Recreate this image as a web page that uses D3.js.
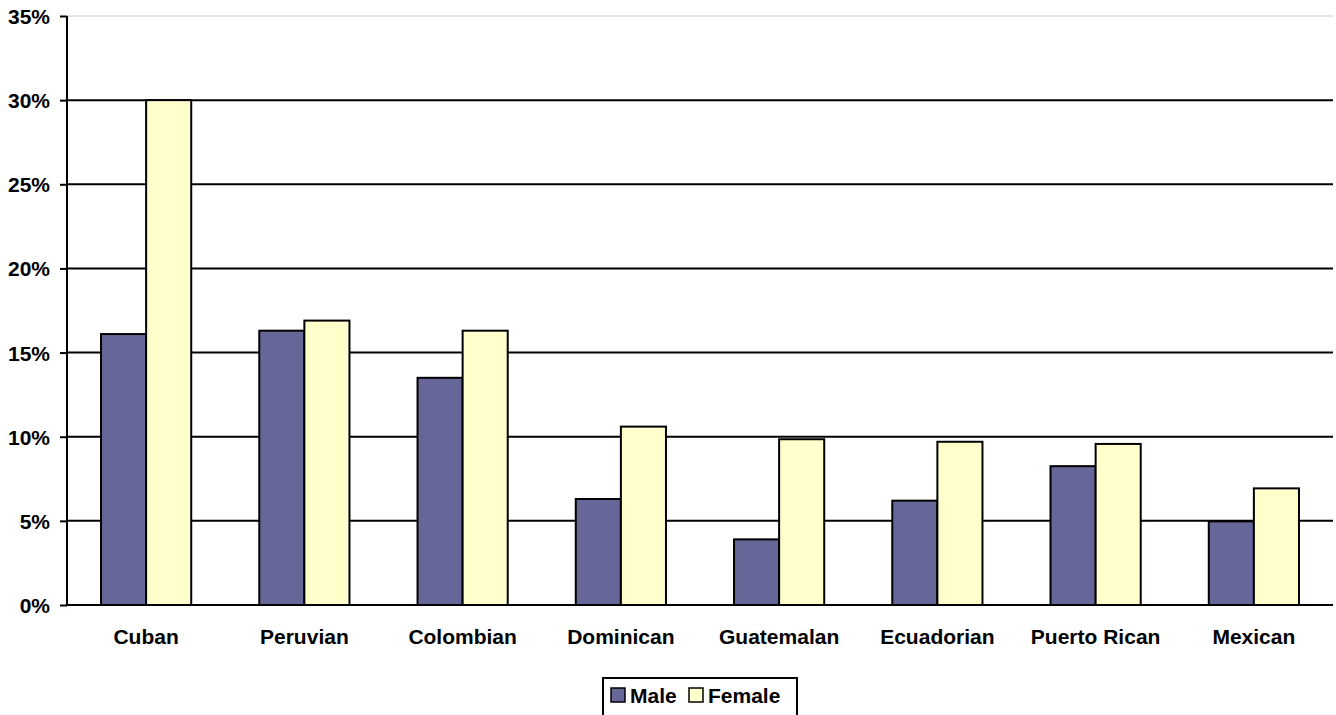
<!DOCTYPE html>
<html><head><meta charset="utf-8">
<script src="https://cdn.jsdelivr.net/npm/d3@7"></script>
<style>body{margin:0;background:#fff}svg{display:block;font-family:Arial,"Liberation Sans",sans-serif;font-weight:bold}</style>
</head><body><svg id="c" width="1336" height="715"></svg>
<script>
const categories = ["Cuban","Peruvian","Colombian","Dominican","Guatemalan","Ecuadorian","Puerto Rican","Mexican"];
const male = [16.1, 16.3, 13.5, 6.3, 3.9, 6.2, 8.25, 4.97];
const female = [30.0, 16.9, 16.3, 10.6, 9.85, 9.7, 9.57, 6.93];
const seriesNames = ["Male","Female"];
const yTicks = [0,5,10,15,20,25,30,35];
const colors = ["#666699","#FFFFCC"];

const FS = 21;
const svg = d3.select("#c");
const L=67, R=1333, T=16, B=605;
const x = d3.scaleBand().domain(categories).range([L,R]).paddingInner(0.43).paddingOuter(0.215);
const xs = d3.scaleBand().domain(seriesNames).range([0,x.bandwidth()]);
const y = d3.scaleLinear().domain([0,35]).range([B,T]);

// gridlines
svg.append("g").selectAll("line").data(yTicks.filter(d=>d>0)).join("line")
  .attr("x1",L).attr("x2",R).attr("y1",d=>y(d)).attr("y2",d=>y(d))
  .attr("stroke",d=>d===35?"#c8c8c8":"#000").attr("stroke-width",d=>d===35?1:2);

// bars
const data = categories.map((c,i)=>({c, vals:[male[i],female[i]]}));
const g = svg.append("g");
data.forEach(d=>{
  d.vals.forEach((v,j)=>{
    g.append("rect").attr("x",x(d.c)+xs(seriesNames[j])).attr("y",y(v))
      .attr("width",xs.bandwidth()).attr("height",B-y(v))
      .attr("fill",colors[j]).attr("stroke","#000").attr("stroke-width",2);
  });
});

// y axis
const ya = d3.axisLeft(y).tickValues(yTicks).tickFormat(d=>d+"%").tickSize(7).tickPadding(10);
const yg = svg.append("g").attr("transform",`translate(${L},0)`).call(ya);
yg.attr("font-size",FS).attr("font-family","Arial, 'Liberation Sans', sans-serif").attr("font-weight","bold");
yg.select(".domain").attr("stroke","#000").attr("stroke-width",2).attr("d",`M0,${T}V${B}`);
yg.selectAll(".tick line").attr("stroke","#000").attr("stroke-width",2);
yg.selectAll("text").attr("fill","#000").attr("dy","0.36em");

// x axis baseline + labels
svg.append("line").attr("x1",L).attr("x2",R).attr("y1",B).attr("y2",B).attr("stroke","#000").attr("stroke-width",2);
svg.append("g").selectAll("text").data(categories).join("text")
  .attr("x",d=>x(d)+x.bandwidth()/2).attr("y",644).attr("text-anchor","middle")
  .attr("font-size",FS).attr("fill","#000").text(d=>d);

// legend
const lg = svg.append("g");
lg.append("rect").attr("x",603).attr("y",678).attr("width",194).attr("height",50)
  .attr("fill","#fff").attr("stroke","#000").attr("stroke-width",2);
const lx = [611,689];
seriesNames.forEach((s,j)=>{
  lg.append("rect").attr("x",lx[j]).attr("y",688).attr("width",14).attr("height",14)
    .attr("fill",colors[j]).attr("stroke","#000").attr("stroke-width",1.5);
  lg.append("text").attr("x",lx[j]+19).attr("y",703).attr("font-size",FS).attr("fill","#000").text(s);
});
</script></body></html>
